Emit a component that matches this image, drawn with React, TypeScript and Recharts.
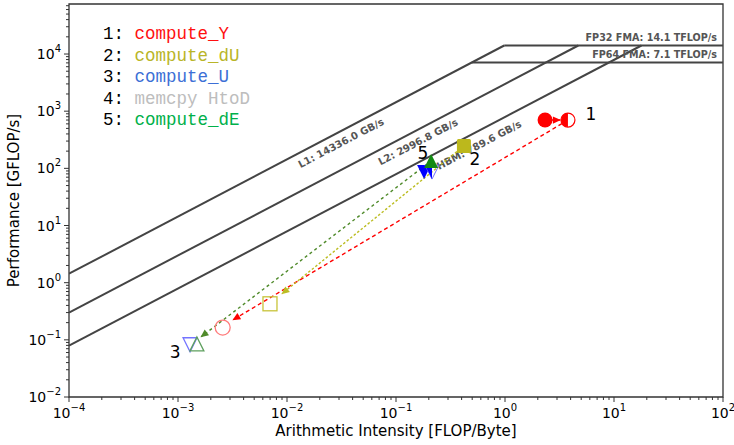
import { ComposedChart, Scatter, XAxis, YAxis, ReferenceArea } from "recharts";

// axis ticks (minor ticks are filled in between the decades)
const xMajorTicks = [1e-4, 1e-3, 1e-2, 1e-1, 1, 10, 100];
const yMajorTicks = [1e-2, 1e-1, 1, 10, 100, 1000, 10000];
const minorSteps = [2, 3, 4, 5, 6, 7, 8, 9];
const xDomain = [1e-4, 100];
const yDomain = [1e-2, 75000];

const kernelNames = ["compute_Y", "compute_dU", "compute_U", "memcpy HtoD", "compute_dE"];
const kernelColors = ["#ff1010", "#b9b528", "#3c6fd6", "#bdbdbd", "#00b04a"];

// rooflines
const l1Roof = [{ x: 1e-4, y: 1.4336 }, { x: 0.9835, y: 14100 }];
const l2Roof = [{ x: 1e-4, y: 0.29968 }, { x: 4.705, y: 14100 }];
const hbmRoof = [{ x: 1e-4, y: 0.07896 }, { x: 17.86, y: 14100 }];
const fp32Roof = [{ x: 0.9835, y: 14100 }, { x: 100, y: 14100 }];
const fp64Roof = [{ x: 0.4953, y: 7100 }, { x: 100, y: 7100 }];
const roofTags = [
  { x: 0.0313, y: 278, text: "L1: 14336.0 GB/s" },
  { x: 0.159, y: 290, text: "L2: 2996.8 GB/s" },
  { x: 0.577, y: 256, text: "HBM: 789.6 GB/s" },
];
const peakTags = [
  { x: 100, y: 14100, text: "FP32 FMA: 14.1 TFLOP/s" },
  { x: 100, y: 7100, text: "FP64 FMA: 7.1 TFLOP/s" },
];

// kernels
const computeYFull = [{ x: 2.33, y: 700 }];
const computeYHalf = [{ x: 3.78, y: 700 }];
const computeYOpen = [{ x: 0.00257, y: 0.164 }];
const computeYMove = [{ x: 3.78, y: 700 }, { x: 0.0032, y: 0.224 }];
const computeYStep = [{ x: 2.33, y: 700 }, { x: 3.2, y: 700 }];

const computeDUFull = [{ x: 0.42, y: 247 }];
const computeDUOpen = [{ x: 0.00698, y: 0.427 }];
const computeDUMove = [{ x: 0.42, y: 247 }, { x: 0.009, y: 0.64 }];

const computeUFull = [{ x: 0.181, y: 86 }];
const computeUHalf = [{ x: 0.214, y: 86 }];
const computeUOpen = [{ x: 0.00129, y: 0.082 }];

const computeDEFull = [{ x: 0.21, y: 135 }];
const computeDEOpen = [{ x: 0.00149, y: 0.085 }];
const computeDEMove = [{ x: 0.21, y: 135 }, { x: 0.00163, y: 0.113 }];

const kernelTags = [
  { x: 6.15, y: 893, text: "1" },
  { x: 0.531, y: 146, text: "2" },
  { x: 0.00094, y: 0.062, text: "3" },
  { x: 0.177, y: 186, text: "5" },
];

const withMinors = (majors: number[], max: number) => {
  const out: number[] = [];
  majors.forEach((m) => {
    out.push(m);
    minorSteps.forEach((s) => {
      if (m * s <= max) out.push(m * s);
    });
  });
  return out;
};
const xTicks = withMinors(xMajorTicks, xDomain[1]);
const yTicks = withMinors(yMajorTicks, yDomain[1]);

const isMajor = (v: number) => {
  const e = Math.round(Math.log10(v));
  return Math.abs(v / Math.pow(10, e) - 1) < 1e-6;
};
const expText = (v: number) => {
  const e = Math.round(Math.log10(v));
  return e < 0 ? "\u2212" + Math.abs(e) : String(e);
};

const tickFont = "'DejaVu Sans', sans-serif";

const XTick = (p: any) => {
  const v = p.payload.value;
  const major = isMajor(v);
  return (
    <g>
      <line x1={p.x} y1={p.y} x2={p.x} y2={p.y + (major ? 5 : 3)} stroke="#333" strokeWidth={1} />
      {major && (
        <text x={p.x} y={p.y + 21} textAnchor="middle" fontFamily={tickFont} fontSize={14} fill="#000">
          10<tspan dy={-7} fontSize={10}>{expText(v)}</tspan>
        </text>
      )}
    </g>
  );
};

const YTick = (p: any) => {
  const v = p.payload.value;
  const major = isMajor(v);
  return (
    <g>
      <line x1={p.x} y1={p.y} x2={p.x - (major ? 5 : 3)} y2={p.y} stroke="#333" strokeWidth={1} />
      {major && (
        <text x={p.x - 8} y={p.y + 5} textAnchor="end" fontFamily={tickFont} fontSize={14} fill="#000">
          10<tspan dy={-7} fontSize={10}>{expText(v)}</tspan>
        </text>
      )}
    </g>
  );
};

const none = () => <g />;

const circleFull = (c: string) => (p: any) => <circle cx={p.cx} cy={p.cy} r={7.5} fill={c} />;
const circleHalf = (c: string) => (p: any) => (
  <g>
    <circle cx={p.cx} cy={p.cy} r={7} fill="#fff" stroke={c} strokeWidth={1.2} />
    <path d={`M${p.cx},${p.cy - 7} A7,7 0 0 0 ${p.cx},${p.cy + 7} Z`} fill={c} />
  </g>
);
const circleOpen = (c: string) => (p: any) => (
  <circle cx={p.cx} cy={p.cy} r={7.5} fill="none" stroke={c} strokeWidth={1.3} />
);
const squareFull = (c: string) => (p: any) => (
  <rect x={p.cx - 7} y={p.cy - 7} width={14} height={14} rx={1.5} fill={c} />
);
const squareOpen = (c: string) => (p: any) => (
  <rect x={p.cx - 7} y={p.cy - 7} width={14} height={14} fill="none" stroke={c} strokeWidth={1.3} />
);
const triPts = (cx: number, cy: number, up: boolean) =>
  up
    ? `${cx - 7},${cy + 7} ${cx + 7},${cy + 7} ${cx},${cy - 7}`
    : `${cx - 7},${cy - 7} ${cx + 7},${cy - 7} ${cx},${cy + 7}`;
const triFull = (c: string, up: boolean) => (p: any) => <polygon points={triPts(p.cx, p.cy, up)} fill={c} />;
const triHalf = (c: string, edge: string, up: boolean) => (p: any) => (
  <g>
    <polygon points={triPts(p.cx, p.cy, up)} fill="none" stroke={edge} strokeWidth={1} />
    <polygon
      points={
        up
          ? `${p.cx - 7},${p.cy + 7} ${p.cx},${p.cy + 7} ${p.cx},${p.cy - 7}`
          : `${p.cx - 7},${p.cy - 7} ${p.cx},${p.cy - 7} ${p.cx},${p.cy + 7}`
      }
      fill={c}
    />
  </g>
);
const triOpen = (c: string, up: boolean) => (p: any) => (
  <polygon points={triPts(p.cx, p.cy, up)} fill="none" stroke={c} strokeWidth={1.3} />
);

const roofTag = (p: any) => (
  <text
    x={p.cx}
    y={p.cy}
    transform={`rotate(-27.7 ${p.cx} ${p.cy})`}
    textAnchor="middle"
    dominantBaseline="central"
    fontFamily={tickFont}
    fontWeight="bold"
    fontSize={10}
    fill="#555"
  >
    {p.payload.text}
  </text>
);
const peakTag = (p: any) => (
  <text x={p.cx - 6} y={p.cy - 4.5} textAnchor="end" fontFamily={tickFont} fontWeight="bold" fontSize={9.6} fill="#555">
    {p.payload.text}
  </text>
);
const kernelTag = (p: any) => (
  <text x={p.cx} y={p.cy} textAnchor="middle" dominantBaseline="central" fontFamily={tickFont} fontSize={17} fill="#000">
    {p.payload.text}
  </text>
);

const roofLine = { stroke: "#444", strokeWidth: 2 };

export default function App() {
  return (
    <div style={{ position: "absolute", left: 0, top: 0, width: 734, height: 445, background: "#fff" }}>
      <svg width={0} height={0} style={{ position: "absolute" }}>
        <defs>
          <marker id="arrRed" viewBox="0 0 10 10" refX="9" refY="5" markerWidth="9" markerHeight="8" markerUnits="userSpaceOnUse" orient="auto">
            <path d="M0,0.5 L10,5 L0,9.5 z" fill="#ff0000" />
          </marker>
          <marker id="arrOlive" viewBox="0 0 10 10" refX="9" refY="5" markerWidth="9" markerHeight="8" markerUnits="userSpaceOnUse" orient="auto">
            <path d="M0,0.5 L10,5 L0,9.5 z" fill="#bcbd22" />
          </marker>
          <marker id="arrGreen" viewBox="0 0 10 10" refX="9" refY="5" markerWidth="9" markerHeight="8" markerUnits="userSpaceOnUse" orient="auto">
            <path d="M0,0.5 L10,5 L0,9.5 z" fill="#4f8a2a" />
          </marker>
        </defs>
      </svg>
      <ComposedChart width={734} height={445} margin={{ top: 4, right: 11, bottom: 0, left: 0 }}>
        <XAxis
          dataKey="x"
          type="number"
          scale="log"
          domain={xDomain}
          ticks={xTicks}
          interval={0}
          allowDataOverflow
          tick={XTick}
          tickSize={0}
          tickMargin={0}
          tickLine={false}
          axisLine={false}
          height={48}
          label={{
            value: "Arithmetic Intensity [FLOP/Byte]",
            position: "insideBottom",
            offset: 9,
            style: { fontFamily: tickFont, fontSize: 15, fill: "#000" },
          }}
        />
        <YAxis
          dataKey="y"
          type="number"
          scale="log"
          domain={yDomain}
          ticks={yTicks}
          interval={0}
          allowDataOverflow
          tick={YTick}
          tickSize={0}
          tickMargin={0}
          tickLine={false}
          axisLine={false}
          width={69}
          label={{
            value: "Performance [GFLOP/s]",
            angle: -90,
            position: "insideLeft",
            offset: 14,
            style: { textAnchor: "middle", fontFamily: tickFont, fontSize: 15, fill: "#000" },
          }}
        />
        <ReferenceArea
          x1={xDomain[0]}
          x2={xDomain[1]}
          y1={yDomain[0]}
          y2={yDomain[1]}
          fill="none"
          fillOpacity={0}
          stroke="#333"
          strokeWidth={1.3}
          ifOverflow="visible"
        />

        <Scatter data={l1Roof} line={roofLine} shape={none} isAnimationActive={false} />
        <Scatter data={l2Roof} line={roofLine} shape={none} isAnimationActive={false} />
        <Scatter data={hbmRoof} line={roofLine} shape={none} isAnimationActive={false} />
        <Scatter data={fp32Roof} line={roofLine} shape={none} isAnimationActive={false} />
        <Scatter data={fp64Roof} line={roofLine} shape={none} isAnimationActive={false} />
        <Scatter data={roofTags} shape={roofTag} isAnimationActive={false} />
        <Scatter data={peakTags} shape={peakTag} isAnimationActive={false} />

        <Scatter
          data={computeYMove}
          line={{ stroke: "#ff0000", strokeWidth: 1.4, strokeDasharray: "4 3", markerEnd: "url(#arrRed)" }}
          shape={none}
          isAnimationActive={false}
        />
        <Scatter
          data={computeYStep}
          line={{ stroke: "#ff0000", strokeWidth: 1.4, strokeDasharray: "4 3", markerEnd: "url(#arrRed)" }}
          shape={none}
          isAnimationActive={false}
        />
        <Scatter
          data={computeDUMove}
          line={{ stroke: "#bcbd22", strokeWidth: 1.4, strokeDasharray: "2.5 2", markerEnd: "url(#arrOlive)" }}
          shape={none}
          isAnimationActive={false}
        />
        <Scatter
          data={computeDEMove}
          line={{ stroke: "#4f8a2a", strokeWidth: 1.4, strokeDasharray: "3 3", markerEnd: "url(#arrGreen)" }}
          shape={none}
          isAnimationActive={false}
        />

        <Scatter data={computeYFull} shape={circleFull("#ff0000")} isAnimationActive={false} />
        <Scatter data={computeYHalf} shape={circleHalf("#ff0000")} isAnimationActive={false} />
        <Scatter data={computeYOpen} shape={circleOpen("#ff7b7b")} isAnimationActive={false} />
        <Scatter data={computeDUFull} shape={squareFull("#bcb81c")} isAnimationActive={false} />
        <Scatter data={computeDUOpen} shape={squareOpen("#c8c43a")} isAnimationActive={false} />
        <Scatter data={computeUFull} shape={triFull("#0000ff", false)} isAnimationActive={false} />
        <Scatter data={computeUHalf} shape={triHalf("#0000ff", "#6f6fff", false)} isAnimationActive={false} />
        <Scatter data={computeUOpen} shape={triOpen("#7474ff", false)} isAnimationActive={false} />
        <Scatter data={computeDEFull} shape={triFull("#138a13", true)} isAnimationActive={false} />
        <Scatter data={computeDEOpen} shape={triOpen("#5ea05e", true)} isAnimationActive={false} />

        <Scatter data={kernelTags} shape={kernelTag} isAnimationActive={false} />
      </ComposedChart>
      <div
        style={{
          position: "absolute",
          left: 103,
          top: 24,
          fontFamily: "'Liberation Mono', monospace",
          fontSize: 17.5,
          lineHeight: "21.5px",
          whiteSpace: "pre",
          pointerEvents: "none",
        }}
      >
        {kernelNames.map((n, i) => (
          <div key={n}>
            <span style={{ color: "#000" }}>{i + 1 + ": "}</span>
            <span style={{ color: kernelColors[i] }}>{n}</span>
          </div>
        ))}
      </div>
    </div>
  );
}
